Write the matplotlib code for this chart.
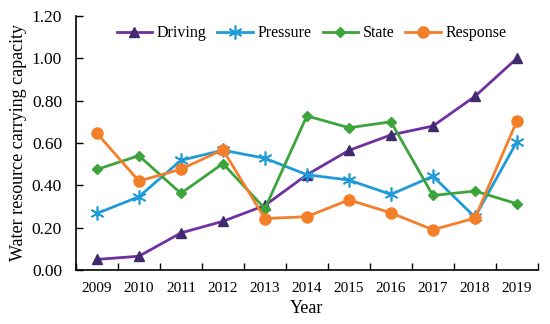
import numpy as np
import matplotlib
matplotlib.use("Agg")
import matplotlib.pyplot as plt
from matplotlib.ticker import FormatStrFormatter, MultipleLocator

plt.rcParams['font.family'] = ['Liberation Serif', 'DejaVu Serif']

years = [2009, 2010, 2011, 2012, 2013, 2014, 2015, 2016, 2017, 2018, 2019]
driving = [0.05, 0.065, 0.175, 0.23, 0.305, 0.45, 0.565, 0.638, 0.68, 0.82, 1.00]
pressure = [0.267, 0.346, 0.518, 0.566, 0.528, 0.45, 0.425, 0.357, 0.443, 0.25, 0.606]
state = [0.475, 0.54, 0.362, 0.503, 0.29, 0.728, 0.672, 0.70, 0.352, 0.373, 0.313]
response = [0.646, 0.42, 0.476, 0.568, 0.243, 0.252, 0.331, 0.27, 0.19, 0.245, 0.704]

fig = plt.figure(figsize=(5.5, 3.24), dpi=100)
ax = fig.add_axes([0.138, 0.1667, 0.840, 0.784])

ax.plot(years, driving, color='#7030A0', lw=2, marker='^', ms=7.5,
        mfc='#3F2A6E', mec='#3F2A6E', label='Driving')
ax.plot(years, pressure, color='#1F9BD7', lw=2, marker=(6, 2, 0), ms=10,
        mew=1.2, label='Pressure')
ax.plot(years, state, color='#3BA53B', lw=2, marker='D', ms=5.5,
        label='State')
ax.plot(years, response, color='#F47F2A', lw=2, marker='o', ms=8,
        label='Response')

ax.set_xlim(2008.5, 2019.5)
ax.set_ylim(0, 1.2)
ax.set_xticks(years)
ax.xaxis.set_minor_locator(MultipleLocator(1, offset=0.5))
ax.yaxis.set_major_locator(MultipleLocator(0.2))
ax.yaxis.set_major_formatter(FormatStrFormatter('%.2f'))
ax.tick_params(axis='x', which='major', length=0, labelsize=11, pad=9)
ax.tick_params(axis='x', which='minor', direction='in', length=5, width=1)
ax.tick_params(axis='y', direction='in', length=5, width=1, labelsize=12.5,
               pad=10)

for s in ['top', 'right']:
    ax.spines[s].set_visible(False)
for s in ['left', 'bottom']:
    ax.spines[s].set_linewidth(1.2)

ax.set_xlabel('Year', fontsize=13, labelpad=3)
ax.set_ylabel('Water resource carrying capacity', fontsize=13, labelpad=3)

ax.legend(loc='upper center', ncol=4, frameon=False, fontsize=11.5,
          handlelength=2.2, columnspacing=0.7, handletextpad=0.3,
          bbox_to_anchor=(0.51, 1.02))

fig.savefig('out.png', dpi=100)
